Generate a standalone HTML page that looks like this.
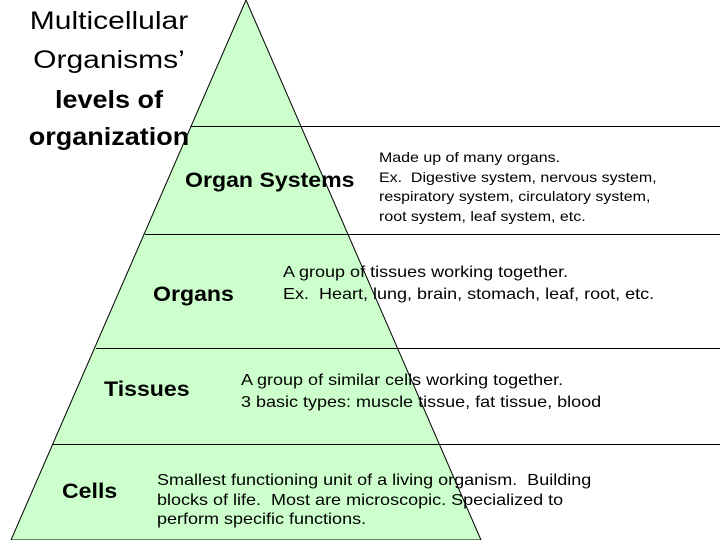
<!DOCTYPE html>
<html><head><style>
body{margin:0;width:720px;height:540px;background:#fff;position:relative;overflow:hidden;font-family:"Liberation Sans",sans-serif;}
.t{position:absolute;white-space:nowrap;color:#000;transform-origin:left top;}
.d{transform:scaleX(1.125);}
.l{font-weight:bold;transform:scaleX(1.1);font-size:21px;}
.h{position:absolute;left:0;width:218px;text-align:center;font-size:25px;line-height:38px;white-space:nowrap;}
</style></head><body>
<svg width="720" height="540" style="position:absolute;left:0;top:0">
<polygon points="246,0 11,540 481,540" fill="#ccffcc" stroke="#000" stroke-width="1"/>
<line x1="191" y1="126.5" x2="720" y2="126.5" stroke="#000"/>
<line x1="145" y1="234.5" x2="720" y2="234.5" stroke="#000"/>
<line x1="96" y1="348.5" x2="720" y2="348.5" stroke="#000"/>
<line x1="53" y1="444.5" x2="720" y2="444.5" stroke="#000"/>
</svg>
<div class="h" style="top:2px;transform:scaleX(1.2)">Multicellular</div>
<div class="h" style="top:41px;transform:scaleX(1.2)">Organisms’</div>
<div class="h" style="top:81px;font-weight:bold;transform:scaleX(1.08)">levels of</div>
<div class="h" style="top:118px;font-weight:bold;transform:scaleX(1.08)">organization</div>
<div class="t l" style="left:185px;top:169px">Organ Systems</div>
<div class="t l" style="left:153px;top:283px">Organs</div>
<div class="t l" style="left:104px;top:378px">Tissues</div>
<div class="t l" style="left:62px;top:480px">Cells</div>
<div class="t" style="left:379px;top:148px;font-size:14px;line-height:19.5px;transform:scaleX(1.14)">Made up of many organs.<br>Ex.&nbsp; Digestive system, nervous system,<br>respiratory system, circulatory system,<br>root system, leaf system, etc.</div>
<div class="t d" style="left:283px;top:262px;font-size:16px;line-height:22px">A group of tissues working together.<br>Ex.&nbsp; Heart, lung, brain, stomach, leaf, root, etc.</div>
<div class="t d" style="left:241px;top:370px;font-size:16px;line-height:22px">A group of similar cells working together.<br>3 basic types: muscle tissue, fat tissue, blood</div>
<div class="t d" style="left:157px;top:471px;font-size:16px;line-height:19.5px">Smallest functioning unit of a living organism.&nbsp; Building<br>blocks of life.&nbsp; Most are microscopic. Specialized to<br>perform specific functions.</div>
</body></html>
